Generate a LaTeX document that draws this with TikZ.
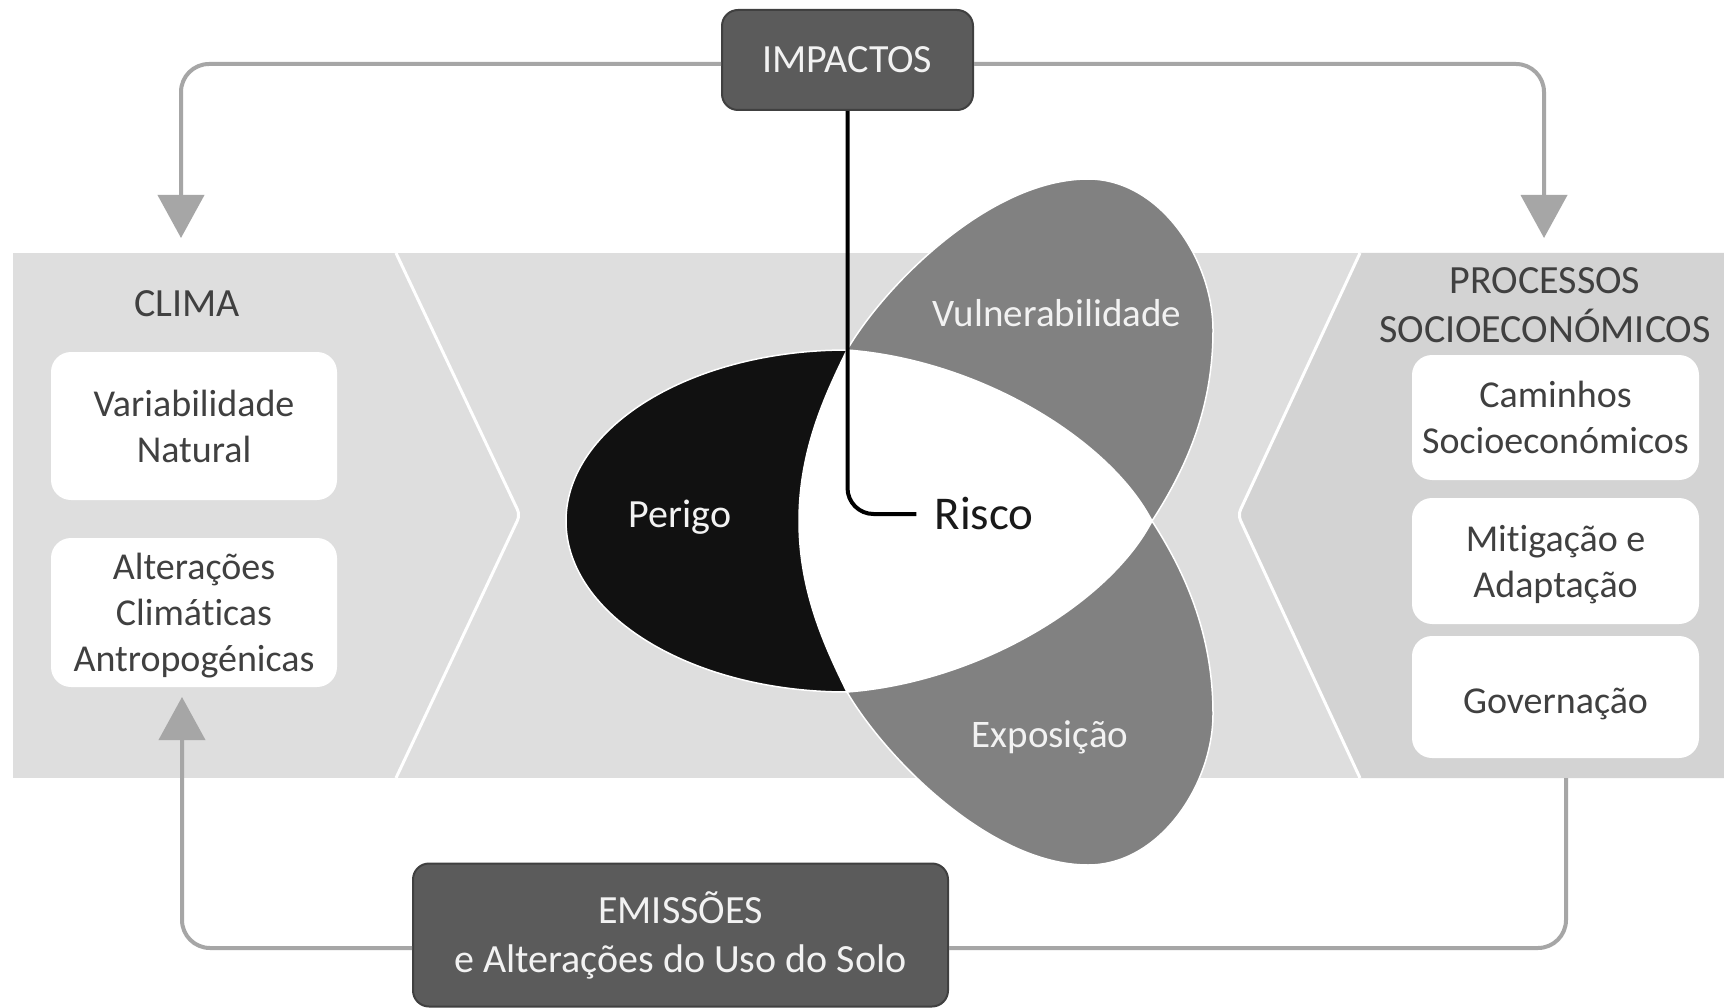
\documentclass[tikz,border=0pt]{standalone}
\usepackage{fontspec}
\setmainfont{Carlito}[RawFeature=-liga]
\usetikzlibrary{arrows.meta}
\definecolor{bandc}{HTML}{DEDEDE}
\definecolor{rightc}{HTML}{D3D3D3}
\definecolor{lineg}{HTML}{A6A6A6}
\definecolor{boxdark}{HTML}{5B5B5B}
\definecolor{boxedge}{HTML}{404040}
\definecolor{petal}{HTML}{818181}
\definecolor{perigoc}{HTML}{111111}
\definecolor{txtgray}{HTML}{404040}
\definecolor{lighttxt}{HTML}{F2F2F2}
\tikzset{
  conn/.style={draw=lineg, line width=4pt, rounded corners=28pt},
  tipend/.style={-{Triangle[width=46pt,length=43pt]}},
  darkbox/.style={rounded corners=16pt, fill=boxdark, draw=boxedge, line width=2pt, text=lighttxt, font=\fontsize{40}{49}\selectfont, align=center, inner sep=0pt},
  whitebox/.style={rounded corners=20pt, fill=white, text=txtgray, font=\fontsize{38}{46}\selectfont, align=center, inner sep=0pt, text depth=0pt},
  heading/.style={text=txtgray, font=\fontsize{40}{49}\selectfont, align=center, inner sep=0pt},
  petaltxt/.style={text=lighttxt, font=\fontsize{39}{46}\selectfont, inner sep=0pt},
  petalshape/.style={draw=white, line width=1.5pt},
  riskln/.style={draw=black, line width=4pt, rounded corners=26pt},
  chev/.style={draw=white, line width=3pt, rounded corners=6pt}
}
\begin{document}
\begin{tikzpicture}[x=1pt,y=-1pt]
\useasboundingbox (0,0) rectangle (1724,1008);
\fill[white] (0,0) rectangle (1724,1008);
% band
\fill[bandc] (13,253) rectangle (1724,778);
\fill[rightc] (1360,253) -- (1724,253) -- (1724,778) -- (1360,778) -- (1238,515) -- cycle;
\draw[chev] (396,253) -- (520,515) -- (396,778);
\draw[chev] (1360,253) -- (1238,515) -- (1360,778);
% petals
\fill[petal, petalshape] (847,350) .. controls (885,285) and (990,179) .. (1088,179)
  .. controls (1160,179) and (1213,260) .. (1213,330)
  .. controls (1213,410) and (1185,470) .. (1152,521)
  .. controls (1110,440) and (980,360) .. (847,350) -- cycle;
\fill[petal, petalshape] (847,692) .. controls (885,757) and (990,865) .. (1088,865)
  .. controls (1160,865) and (1213,784) .. (1213,714)
  .. controls (1213,634) and (1185,572) .. (1152,521)
  .. controls (1110,602) and (980,682) .. (847,692) -- cycle;
\fill[perigoc, petalshape] (847,350) .. controls (691.8,350) and (566,426.6) .. (566,521)
  .. controls (566,615.4) and (691.8,692) .. (847,692)
  .. controls (825,647) and (799,592) .. (799,521)
  .. controls (799,450) and (825,395) .. (847,350) -- cycle;
\fill[white] (847,350) .. controls (980,360) and (1110,440) .. (1152,521)
  .. controls (1110,602) and (980,682) .. (847,692)
  .. controls (825,647) and (799,592) .. (799,521)
  .. controls (799,450) and (825,395) .. (847,350) -- cycle;
% texts in petals
\node[petaltxt, font=\fontsize{40}{46}\selectfont] (perigo) at (680,517) {Perigo};
\node[petaltxt] (vuln) at (1057,313) {Vulnerabilidade};
\node[petaltxt] (expo) at (1050,737) {Exposição};
\node[inner sep=0pt, text=black!90, font=\fontsize{47}{56}\selectfont] (risco) at (984,514) {Risco};
% headings
\node[heading] (clima) at (187,304) {CLIMA};
\node[heading] (proc) at (1545,305) {PROCESSOS\\SOCIOECONÓMICOS};
% white boxes
\node[whitebox, minimum width=286pt, minimum height=148pt] (var) at (194,426) {Variabilidade\\Natural};
\node[whitebox, minimum width=286pt, minimum height=149pt] (alt) at (194,612.5) {Alterações\\Climáticas\\Antropogénicas};
\node[whitebox, minimum width=287pt, minimum height=125pt] (cam) at (1555.5,417.5) {Caminhos\\Socioeconómicos};
\node[whitebox, minimum width=287pt, minimum height=126pt] (mit) at (1555.5,561) {Mitigação e\\Adaptação};
\node[whitebox, minimum width=287pt, minimum height=122pt, text height=33pt] (gov) at (1555.5,697) {Governação};
% dark boxes
\node[darkbox, minimum width=251pt, minimum height=100pt] (imp) at (847.5,60) {IMPACTOS};
\node[darkbox, minimum width=535pt, minimum height=143pt] (emi) at (680.5,935) {EMISSÕES\\e Alterações do Uso do Solo};
% risk line
\draw[riskln] (imp.south) |- ([xshift=-18pt]risco.west);
% connectors
\coordinate (ty) at (0,64);
\coordinate (tl) at (181,238);
\coordinate (tr) at (1544,238);
\coordinate (br) at (1566,778);
\coordinate (bl) at (182,948);
\coordinate (ctip) at (182,697);
\draw[conn, tipend] (imp.west |- ty) -| (tl);
\draw[conn, tipend] (imp.east |- ty) -| (tr);
\draw[conn] (br) |- (emi.east |- bl);
\draw[conn, tipend] (emi.west |- bl) -| (ctip);
\end{tikzpicture}
\end{document}
